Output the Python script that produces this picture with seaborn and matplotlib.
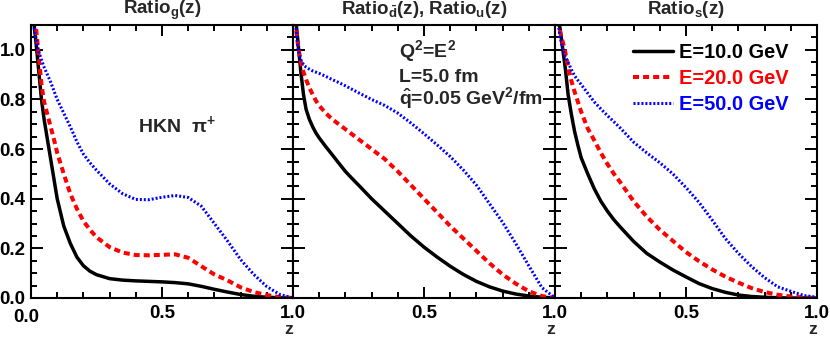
import matplotlib
matplotlib.use("Agg")
import numpy as np
import pandas as pd
import seaborn as sns
import matplotlib.pyplot as plt
from matplotlib.ticker import MultipleLocator, FixedLocator
from matplotlib.transforms import ScaledTranslation

# ---------------- data ----------------
z = [0.005, 0.01, 0.02, 0.03, 0.04, 0.05, 0.0625, 0.075, 0.0875, 0.1, 0.125, 0.15, 0.175,
     0.2, 0.225, 0.25, 0.3, 0.35, 0.4, 0.45, 0.5, 0.55, 0.6, 0.65, 0.7, 0.75, 0.8,
     0.85, 0.9, 0.95, 1.0]

# gluon
g_E10 = [1.30, 1.12, 1.02, 0.91, 0.80, 0.72, 0.64, 0.56, 0.48, 0.40, 0.29, 0.22, 0.165,
         0.13, 0.108, 0.094, 0.078, 0.072, 0.069, 0.067, 0.065, 0.062, 0.057, 0.047, 0.035,
         0.024, 0.014, 0.007, 0.003, 0.001, 0.0]
g_E20 = [1.25, 1.16, 1.08, 0.97, 0.86, 0.79, 0.74, 0.69, 0.64, 0.585, 0.50, 0.42, 0.36,
         0.31, 0.275, 0.245, 0.205, 0.183, 0.173, 0.172, 0.174, 0.176, 0.162, 0.128, 0.095,
         0.071, 0.043, 0.024, 0.012, 0.003, 0.0]
g_E50 = [1.20, 1.10, 1.04, 0.99, 0.96, 0.93, 0.90, 0.87, 0.835, 0.80, 0.745, 0.69, 0.63,
         0.58, 0.545, 0.515, 0.46, 0.42, 0.397, 0.396, 0.406, 0.413, 0.405, 0.37, 0.30,
         0.23, 0.155, 0.095, 0.046, 0.014, 0.0]
# d-bar, u
u_E10 = [1.25, 1.13, 1.02, 0.91, 0.82, 0.76, 0.72, 0.69, 0.665, 0.645, 0.61, 0.577, 0.543,
         0.51, 0.482, 0.455, 0.40, 0.35, 0.30, 0.25, 0.205, 0.165, 0.128, 0.095, 0.067,
         0.045, 0.028, 0.016, 0.008, 0.003, 0.0]
u_E20 = [1.20, 1.10, 1.01, 0.95, 0.91, 0.88, 0.847, 0.82, 0.795, 0.775, 0.745, 0.72, 0.70,
         0.68, 0.66, 0.64, 0.60, 0.56, 0.51, 0.455, 0.40, 0.345, 0.29, 0.24, 0.19,
         0.14, 0.095, 0.058, 0.027, 0.008, 0.0]
u_E50 = [1.20, 1.10, 1.00, 0.96, 0.94, 0.93, 0.922, 0.915, 0.91, 0.905, 0.893, 0.88, 0.868,
         0.855, 0.841, 0.827, 0.80, 0.776, 0.745, 0.705, 0.662, 0.617, 0.57, 0.516, 0.455,
         0.38, 0.305, 0.22, 0.13, 0.042, 0.0]
# strange
s_E10 = [1.25, 1.15, 1.08, 1.00, 0.92, 0.82, 0.74, 0.67, 0.615, 0.565, 0.50, 0.44, 0.39,
         0.35, 0.315, 0.285, 0.228, 0.18, 0.145, 0.113, 0.085, 0.058, 0.038, 0.023, 0.012,
         0.006, 0.003, 0.001, 0.0, 0.0, 0.0]
s_E20 = [1.20, 1.12, 1.07, 1.03, 0.986, 0.93, 0.875, 0.83, 0.79, 0.75, 0.683, 0.635, 0.585,
         0.54, 0.50, 0.465, 0.39, 0.328, 0.275, 0.23, 0.185, 0.148, 0.115, 0.086, 0.062,
         0.04, 0.024, 0.013, 0.006, 0.002, 0.0]
s_E50 = [1.20, 1.12, 1.05, 1.00, 0.97, 0.95, 0.92, 0.895, 0.877, 0.86, 0.825, 0.79, 0.762,
         0.735, 0.71, 0.684, 0.628, 0.585, 0.545, 0.50, 0.445, 0.385, 0.314, 0.24, 0.18,
         0.127, 0.082, 0.045, 0.027, 0.01, 0.003]

energies = ["E=10.0 GeV", "E=20.0 GeV", "E=50.0 GeV"]
panel_titles = [r"Ratio$_{\mathrm{g}}$(z)",
                r"Ratio$_{\bar{\mathrm{d}}}$(z), Ratio$_{\mathrm{u}}$(z)",
                r"Ratio$_{\mathrm{s}}$(z)"]
panel_series = [[g_E10, g_E20, g_E50], [u_E10, u_E20, u_E50], [s_E10, s_E20, s_E50]]
y_ticks = [0.0, 0.2, 0.4, 0.6, 0.8, 1.0]
y_ticklabels = ["0.0", "0.2", "0.4", "0.6", "0.8", "1.0"]
x_ticks = [0.0, 0.5, 1.0]
x_ticklabels_first = ["0.0", "0.5", "1.0"]
x_ticklabels_other = ["", "0.5", "1.0"]

# ---------------- style ----------------
sns.set_style("ticks")
plt.rcParams["font.family"] = ["Liberation Sans", "DejaVu Sans"]
plt.rcParams["font.weight"] = "bold"
plt.rcParams["mathtext.fontset"] = "custom"
plt.rcParams["mathtext.rm"] = "Liberation Sans:bold"
plt.rcParams["mathtext.it"] = "Liberation Sans:bold"
plt.rcParams["mathtext.bf"] = "Liberation Sans:bold"
plt.rcParams["mathtext.sf"] = "Liberation Sans:bold"
plt.rcParams["axes.linewidth"] = 1.5

colors = ["#000000", "#ff0000", "#0000ff"]
widths = [2.5, 2.9, 2.2]
styles = ["-", (0, (1.5, 1.0)), (0, (0.65, 0.65))]

fig, axes = plt.subplots(1, 3, figsize=(8.3, 3.38), dpi=100, sharey=True)
fig.subplots_adjust(left=31 / 830, right=817 / 830, bottom=1 - 298 / 338,
                    top=1 - 25 / 338, wspace=0)

for i, ax in enumerate(axes):
    frames = []
    for lab, vals in zip(energies, panel_series[i]):
        frames.append(pd.DataFrame({"z": z, "ratio": vals, "E": lab}))
    df = pd.concat(frames, ignore_index=True)
    for j, lab in enumerate(energies):
        sub = df[df["E"] == lab]
        sns.lineplot(data=sub, x="z", y="ratio", ax=ax, color=colors[j],
                     linewidth=widths[j], linestyle=styles[j], label=lab,
                     legend=False, estimator=None, sort=True)
    ax.set_xlim(0, 1)
    ax.set_ylim(0, 1.1)
    ax.xaxis.set_major_locator(FixedLocator(x_ticks))
    ax.xaxis.set_minor_locator(MultipleLocator(0.1))
    ax.yaxis.set_major_locator(FixedLocator(y_ticks))
    ax.yaxis.set_minor_locator(MultipleLocator(0.05))
    ax.set_xticklabels(x_ticklabels_first if i == 0 else x_ticklabels_other,
                       fontsize=13.5, fontweight="bold")
    ax.tick_params(which="both", direction="in", top=True, right=True,
                   width=1.4, colors="black")
    ax.tick_params(axis="x", which="major", length=8, pad=5)
    ax.tick_params(axis="x", which="minor", length=4)
    ax.tick_params(axis="y", which="major", length=8.5, pad=4)
    ax.tick_params(axis="y", which="minor", length=4.3)
    for sp in ax.spines.values():
        sp.set_visible(True)
        sp.set_color("black")
        sp.set_linewidth(1.5)
    ax.set_xlabel("z", loc="right", fontsize=12.5, fontweight="bold")
    ax.xaxis.set_label_coords(1.0, -0.087)
    ax.set_ylabel("")
    ax.text(0.5, 1.04, panel_titles[i], transform=ax.transAxes, ha="center",
            va="baseline", fontsize=13.5, fontweight="bold")

axes[0].set_yticklabels(y_ticklabels, fontsize=13.5, fontweight="bold")
# shift the first "0.0" x label a little left and down, like the reference
lab0 = axes[0].get_xticklabels()[0]
lab0.set_transform(lab0.get_transform() + ScaledTranslation(-5 / 100, -4 / 100, fig.dpi_scale_trans))

# annotations
axes[0].text(0.41, 0.67, r"HKN  $\pi^{+}$", fontsize=14, fontweight="bold",
             ha="left", va="baseline")
axes[1].text(0.405, 0.97, r"Q$^{2}$=E$^{2}$", fontsize=14, fontweight="bold",
             ha="left", va="baseline")
axes[1].text(0.405, 0.871, "L=5.0 fm", fontsize=14, fontweight="bold",
             ha="left", va="baseline")
axes[1].text(0.405, 0.78, r"$\hat{\mathrm{q}}$=0.05 GeV$^{2}$/fm", fontsize=14,
             fontweight="bold", ha="left", va="baseline")

# legend in the third panel
handles = axes[2].get_lines()[:3]
leg = axes[2].legend(handles=handles, labels=energies, loc="upper right",
                     bbox_to_anchor=(0.89, 0.935), frameon=False,
                     handlelength=2.0, handletextpad=0.3, labelspacing=0.36,
                     borderpad=0, borderaxespad=0, labelcolor="linecolor",
                     prop={"weight": "bold", "size": 14.4})

fig.savefig("out.png", dpi=100)
